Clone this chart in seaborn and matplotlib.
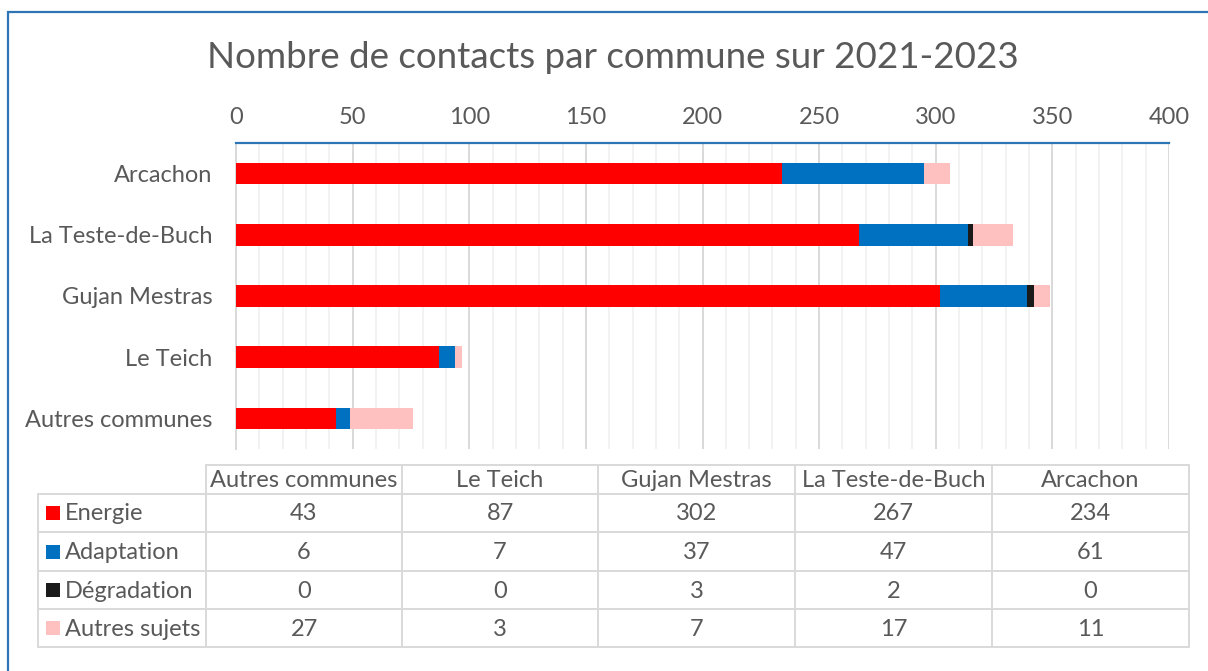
import matplotlib
matplotlib.use("Agg")
import matplotlib.pyplot as plt
import matplotlib.patches as mpatches
import seaborn as sns
import numpy as np
import pandas as pd

# data (table order, left to right)
communes = ["Autres communes", "Le Teich", "Gujan Mestras", "La Teste-de-Buch", "Arcachon"]
energie = [43, 87, 302, 267, 234]
adaptation = [6, 7, 37, 47, 61]
degradation = [0, 0, 3, 2, 0]
autres_sujets = [27, 3, 7, 17, 11]
series_names = ["Energie", "Adaptation", "Dégradation", "Autres sujets"]
colors = ["#FF0000", "#0070C0", "#1A1A1A", "#FFC0C0"]
x_ticks = [0, 50, 100, 150, 200, 250, 300, 350, 400]

title = "Nombre de contacts par commune sur 2021-2023"
text_color = "#595959"
grid_major = "#D9D9D9"
grid_minor = "#F0F0F0"
frame_blue = "#2E75B6"

sns.set_theme(style="white")
plt.rcParams["font.family"] = ["Lato", "DejaVu Sans"]

df = pd.DataFrame({
    "commune": communes,
    "Energie": energie,
    "Adaptation": adaptation,
    "Dégradation": degradation,
    "Autres sujets": autres_sujets,
})
series = [df[name].to_numpy() for name in series_names]
cum = np.cumsum(series, axis=0)

W, H = 1208, 671
fig = plt.figure(figsize=(W / 100, H / 100), dpi=100)

def fx(px):
    return px / W

def fy(py):
    return 1 - py / H

ax = fig.add_axes([fx(236), fy(449), fx(1169) - fx(236), fy(143) - fy(449)])

# stacked bars: draw the cumulative totals from largest to smallest
plot_order = communes[::-1]
for i in range(len(series_names) - 1, -1, -1):
    d = pd.DataFrame({"commune": communes, "value": cum[i]})
    sns.barplot(data=d, y="commune", x="value", order=plot_order, orient="h",
                color=colors[i], width=0.35, saturation=1, ax=ax, zorder=3,
                linewidth=0)

fs = 17
ax.set_xlim(0, 400)
ax.set_ylim(4.5, -0.5)
ax.set_xticks(x_ticks)
ax.set_xticks(np.arange(0, 401, 10), minor=True)
ax.xaxis.tick_top()
ax.tick_params(axis="x", which="both", length=0, pad=11, labelsize=fs, labelcolor=text_color)
ax.tick_params(axis="y", length=0, pad=17, labelsize=fs, labelcolor=text_color)
ax.set_xlabel("")
ax.set_ylabel("")
ax.grid(axis="x", which="major", color=grid_major, linewidth=1.4, zorder=0)
ax.grid(axis="x", which="minor", color=grid_minor, linewidth=1.2, zorder=0)
ax.grid(axis="y", visible=False)
ax.set_axisbelow(True)
for side in ["right", "bottom"]:
    ax.spines[side].set_visible(False)
ax.spines["left"].set_color(grid_major)
ax.spines["left"].set_linewidth(1.4)
ax.spines["top"].set_color(frame_blue)
ax.spines["top"].set_linewidth(1.6)

fig.text(fx(613), fy(58), title, ha="center", va="center", fontsize=26.5,
         color=text_color)

# outer frame
fig.patches.append(mpatches.Rectangle((fx(8), fy(700)), fx(1230) - fx(8), fy(12) - fy(700),
                                      transform=fig.transFigure, fill=False,
                                      edgecolor=frame_blue, linewidth=1.6))

# data table
tab = fig.add_axes([0, 0, 1, 1])
tab.set_xlim(0, W)
tab.set_ylim(H, 0)
tab.axis("off")
tab.patch.set_alpha(0)

col_x = [38, 206, 402, 598, 795, 992, 1189]
row_y = [465, 494, 532, 571, 609, 647]
lc = grid_major
lw = 1.4
# header row (data columns only)
tab.plot([col_x[1], col_x[-1]], [row_y[0], row_y[0]], color=lc, lw=lw)
for yy in row_y[1:]:
    tab.plot([col_x[0], col_x[-1]], [yy, yy], color=lc, lw=lw)
tab.plot([col_x[0], col_x[0]], [row_y[1], row_y[-1]], color=lc, lw=lw)
for xx in col_x[1:]:
    tab.plot([xx, xx], [row_y[0], row_y[-1]], color=lc, lw=lw)

for j, name in enumerate(communes):
    cx = (col_x[j + 1] + col_x[j + 2]) / 2
    tab.text(cx, (row_y[0] + row_y[1]) / 2 + 1, name, ha="center", va="center",
             fontsize=fs, color=text_color)
for i, name in enumerate(series_names):
    cy = (row_y[i + 1] + row_y[i + 2]) / 2
    tab.add_patch(mpatches.Rectangle((46, cy - 7), 14, 14, color=colors[i], lw=0))
    tab.text(65, cy + 1, name, ha="left", va="center", fontsize=fs, color=text_color)
    for j in range(len(communes)):
        cx = (col_x[j + 1] + col_x[j + 2]) / 2
        tab.text(cx, cy + 1, str(series[i][j]), ha="center", va="center",
                 fontsize=fs, color=text_color)

fig.savefig("out.png", dpi=100)
